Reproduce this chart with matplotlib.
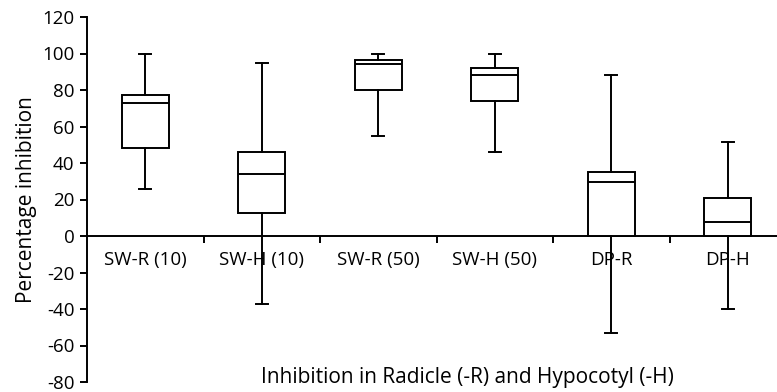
import numpy as np
import matplotlib.pyplot as plt

plt.rcParams['font.family'] = ['Open Sans', 'DejaVu Sans']
plt.rcParams['axes.unicode_minus'] = False

categories = ["SW-R (10)", "SW-H (10)", "SW-R (50)", "SW-H (50)", "DP-R", "DP-H"]
whisker_low = [26, -37, 55, 46, -53, -40]
q1 = [48, 12.5, 80, 74, 0, 0]
medians = [73, 34, 94, 88, 29.5, 7.5]
q3 = [77.5, 46, 96.5, 92, 35, 21]
whisker_high = [100, 95, 100, 100, 88, 51.5]

stats = []
for i, name in enumerate(categories):
    stats.append({"label": name, "whislo": whisker_low[i], "q1": q1[i], "med": medians[i],
                  "q3": q3[i], "whishi": whisker_high[i]})

fig = plt.figure(figsize=(7.77, 3.92), dpi=100)
ax = fig.add_axes([87 / 777, 1 - 382 / 392, 1 - 87 / 777, (382 - 17) / 392])

pos = np.arange(1, len(categories) + 1)
lw = 1.4
ax.bxp(stats, positions=pos, widths=0.4, showfliers=False, patch_artist=True,
       boxprops=dict(facecolor="white", edgecolor="black", linewidth=lw),
       medianprops=dict(color="black", linewidth=lw),
       whiskerprops=dict(color="black", linewidth=lw),
       capprops=dict(color="black", linewidth=lw),
       capwidths=0.1, manage_ticks=False, zorder=3)

ax.set_xlim(0.5, 0.5 + 690 / 116.5)
ax.set_ylim(-80, 120)
ax.set_yticks(np.arange(-80, 121, 20))

for s in ["top", "right"]:
    ax.spines[s].set_visible(False)
ax.spines["bottom"].set_position(("data", 0))
ax.spines["bottom"].set_zorder(2)
for s in ["left", "bottom"]:
    ax.spines[s].set_linewidth(lw)

ax.set_xticks(pos)
ax.set_xticklabels(categories)
ax.set_xticks(pos[:-1] + 0.5, minor=True)
ax.tick_params(axis="x", which="major", length=0, pad=11, labelsize=13.5)
ax.tick_params(axis="x", which="minor", length=5, width=lw, direction="out")
ax.tick_params(axis="y", length=5, width=lw, labelsize=13.5, pad=4)

ax.set_ylabel("Percentage inhibition", fontsize=15, labelpad=4)
fig.text(467 / 777, 1 - 377 / 392, "Inhibition in Radicle (-R) and Hypocotyl (-H)",
         fontsize=15, ha="center", va="center")

fig.savefig("out.png", dpi=100)
